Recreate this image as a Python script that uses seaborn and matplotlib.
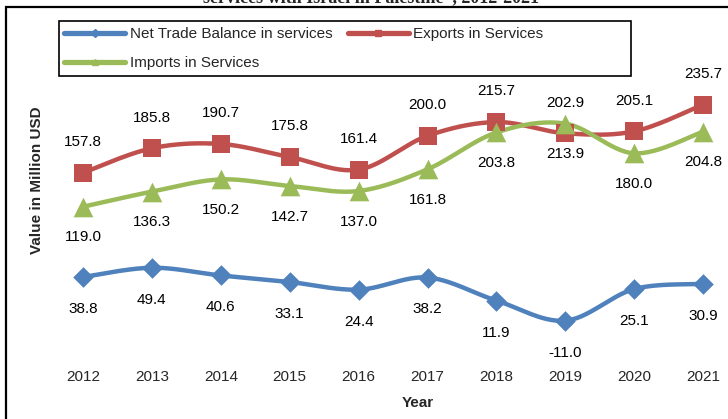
import matplotlib
matplotlib.use("Agg")
import matplotlib.pyplot as plt
from matplotlib.lines import Line2D
from matplotlib.patches import Rectangle
import numpy as np
import seaborn as sns

years = [2012, 2013, 2014, 2015, 2016, 2017, 2018, 2019, 2020, 2021]
net_balance = [38.8, 49.4, 40.6, 33.1, 24.4, 38.2, 11.9, -11.0, 25.1, 30.9]
exports = [157.8, 185.8, 190.7, 175.8, 161.4, 200.0, 215.7, 202.9, 205.1, 235.7]
imports = [119.0, 136.3, 150.2, 142.7, 137.0, 161.8, 203.8, 213.9, 180.0, 204.8]

BLUE = "#4F81BD"
RED = "#C0504D"
GREEN = "#9BBB59"

W, H = 728, 419


def fx(px):
    return px / W


def fy(py):
    return 1 - py / H


def smooth(x, y, n=30):
    # Excel style smoothed line (Catmull-Rom through the points)
    x = np.asarray(x, float)
    y = np.asarray(y, float)
    px = np.r_[x[0], x, x[-1]]
    py = np.r_[y[0], y, y[-1]]
    xs, ys = [], []
    t = np.linspace(0, 1, n, endpoint=False)
    for i in range(1, len(px) - 2):
        for arr, out in ((px, xs), (py, ys)):
            p0, p1, p2, p3 = arr[i - 1], arr[i], arr[i + 1], arr[i + 2]
            c1 = p1 + (p2 - p0) / 6
            c2 = p2 - (p3 - p1) / 6
            out.extend((1 - t) ** 3 * p1 + 3 * (1 - t) ** 2 * t * c1
                       + 3 * (1 - t) * t ** 2 * c2 + t ** 3 * p2)
    xs.append(x[-1])
    ys.append(y[-1])
    return np.array(xs), np.array(ys)


sns.set_style("white")
plt.rcParams["font.family"] = ["Liberation Sans", "DejaVu Sans"]

fig = plt.figure(figsize=(W / 100, H / 100), dpi=100)
ax = fig.add_axes([fx(40), fy(362), (W - 40) / W, (362 - 15) / H])

series = [
    (net_balance, BLUE, "D", 110, -23),
    (exports, RED, "s", 170, 22),
    (imports, GREEN, "^", 200, -22),
]

for vals, color, marker, size, off in series:
    xs, ys = smooth(years, vals)
    sns.lineplot(x=xs, y=ys, color=color, linewidth=3.2, sort=False,
                 estimator=None, ax=ax, legend=False, zorder=2)
    sns.scatterplot(x=years, y=vals, marker=marker, s=size, color=color,
                    edgecolor=color, linewidth=0, ax=ax, legend=False, zorder=3)
    for yr, v in zip(years, vals):
        ax.annotate(f"{v:.1f}", (yr, v), xytext=(0, off), textcoords="offset points",
                    ha="center", va="center", fontsize=11, color="black")

ax.set_xlim(2011.376, 2021.361)
ax.set_ylim(-58.2, 337.9)
ax.set_xticks(years)
ax.set_xticklabels([str(y) for y in years], fontsize=11)
ax.tick_params(axis="x", length=0, pad=6)
ax.set_yticks([])
ax.set_xlabel("")
ax.set_ylabel("")
for s in ax.spines.values():
    s.set_visible(False)
ax.patch.set_alpha(0)

fig.text(fx(418), fy(403), "Year", ha="center", va="center", fontsize=11, fontweight="bold")
fig.text(fx(37), fy(180), "Value in Million USD", ha="center", va="center",
         rotation=90, fontsize=11, fontweight="bold")

# partially cut-off title above the frame
fig.text(fx(371), fy(2), "services with Israel in Palestine*, 2012-2021", ha="center",
         va="baseline", fontsize=13, fontweight="bold", family="Liberation Serif")

# outer frame
fig.add_artist(Rectangle((fx(6), -0.1), 1.2, fy(7.5) + 0.1, transform=fig.transFigure,
                         fill=False, edgecolor="black", linewidth=1.6))

# legend with its own box
fig.add_artist(Rectangle((fx(59), fy(76)), (631 - 59) / W, (76 - 21.5) / H,
                         transform=fig.transFigure, fill=False, edgecolor="black",
                         linewidth=1.2))
handles = [
    Line2D([], [], color=BLUE, lw=3.8, marker="D", markersize=4),
    Line2D([], [], color=GREEN, lw=3.8, marker="^", markersize=5),
    Line2D([], [], color=RED, lw=3.8, marker="s", markersize=5),
]
labels = ["Net Trade Balance in services", "Imports in Services", "Exports in Services"]
fig.legend(handles, labels, ncol=2, loc="upper left", bbox_to_anchor=(fx(64), fy(27)),
           frameon=False, fontsize=11, handlelength=4.0, handletextpad=0.3,
           columnspacing=1.0, labelspacing=1.0, borderpad=0, borderaxespad=0)

fig.savefig("out.png", dpi=100)
